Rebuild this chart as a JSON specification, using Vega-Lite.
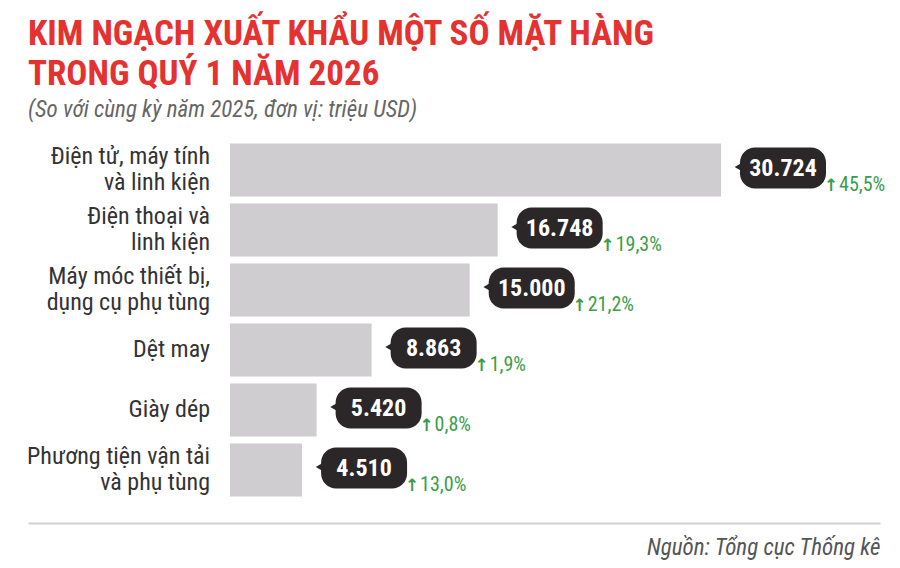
{
  "$schema": "https://vega.github.io/schema/vega-lite/v6.json",
  "autosize": "none",
  "width": 852,
  "height": 360,
  "padding": {"left": 28, "top": 140, "right": 20, "bottom": 68},
  "background": "white",
  "title": {
    "text": ["KIM NGẠCH XUẤT KHẨU MỘT SỐ MẶT HÀNG", "TRONG QUÝ 1 NĂM 2026"],
    "subtitle": "(So với cùng kỳ năm 2025, đơn vị: triệu USD)",
    "anchor": "start",
    "frame": "group",
    "font": "Roboto Condensed, Roboto",
    "fontSize": 35,
    "fontWeight": "bold",
    "color": "#e5312f",
    "lineHeight": 40,
    "subtitleFont": "Roboto Condensed, Roboto",
    "subtitleFontSize": 23,
    "subtitleFontStyle": "italic",
    "subtitleColor": "#666666",
    "subtitlePadding": 7,
    "offset": 18
  },
  "data": {
    "values": [
      {"category": "Điện tử, máy tính|và linh kiện", "lines": 2, "value": 30724, "pct": "45,5%"},
      {"category": "Điện thoại và|linh kiện", "lines": 2, "value": 16748, "pct": "19,3%"},
      {"category": "Máy móc thiết bị,|dụng cụ phụ tùng", "lines": 2, "value": 15000, "pct": "21,2%"},
      {"category": "Dệt may", "lines": 1, "value": 8863, "pct": "1,9%"},
      {"category": "Giày dép", "lines": 1, "value": 5420, "pct": "0,8%"},
      {"category": "Phương tiện vận tải|và phụ tùng", "lines": 2, "value": 4510, "pct": "13,0%"}
    ]
  },
  "encoding": {
    "y": {"field": "category", "type": "nominal", "sort": null, "axis": null,
          "scale": {"paddingInner": 0.12, "paddingOuter": 0.06}}
  },
  "layer": [
    {
      "mark": {"type": "bar", "color": "#cfcdd0"},
      "encoding": {
        "x": {"field": "value", "type": "quantitative",
              "scale": {"domain": [-12640, 40673], "nice": false, "zero": false},
              "axis": {"orient": "bottom", "offset": 23, "domain": true, "domainColor": "#d0d0d0", "domainWidth": 2,
                       "ticks": false, "labels": false, "grid": false,
                       "title": "Nguồn: Tổng cục Thống kê", "titleAnchor": "end", "titleFont": "Roboto Condensed, Roboto",
                       "titleFontStyle": "italic", "titleFontWeight": "normal", "titleFontSize": 23, "titleColor": "#555555",
                       "titlePadding": 13}}
      }
    },
    {
      "transform": [{"filter": "datum.lines == 2"}],
      "mark": {"type": "text", "align": "right", "baseline": "middle", "xOffset": -20, "yOffset": -13, "lineBreak": "|",
               "font": "Roboto Condensed, Roboto", "fontSize": 24, "lineHeight": 26, "color": "#333333"},
      "encoding": {"x": {"datum": 0, "type": "quantitative"}, "text": {"field": "category"}}
    },
    {
      "transform": [{"filter": "datum.lines == 1"}],
      "mark": {"type": "text", "align": "right", "baseline": "middle", "xOffset": -20, "yOffset": 0,
               "font": "Roboto Condensed, Roboto", "fontSize": 24, "color": "#333333"},
      "encoding": {"x": {"datum": 0, "type": "quantitative"}, "text": {"field": "category"}}
    },
    {
      "mark": {"type": "bar", "color": "#2b2728", "height": 41, "cornerRadius": 15, "xOffset": 19, "x2Offset": 105, "yOffset": -2, "y2Offset": -2},
      "encoding": {"x": {"field": "value", "type": "quantitative"}, "x2": {"field": "value"}}
    },
    {
      "mark": {"type": "point", "shape": "triangle-left", "filled": true, "color": "#2b2728", "opacity": 1, "size": 100, "xOffset": 18, "yOffset": -3},
      "encoding": {"x": {"field": "value", "type": "quantitative"}}
    },
    {
      "mark": {"type": "text", "align": "center", "baseline": "middle", "xOffset": 62, "yOffset": -1,
               "font": "Roboto Condensed, Roboto", "fontSize": 24, "fontWeight": "bold", "color": "white"},
      "encoding": {"x": {"field": "value", "type": "quantitative"}, "text": {"field": "value", "type": "quantitative", "format": ","}}
    },
    {
      "mark": {"type": "text", "align": "center", "baseline": "alphabetic", "xOffset": 110, "yOffset": 21,
               "font": "DejaVu Sans", "fontSize": 17, "fontWeight": "bold", "color": "#3a9e48"},
      "encoding": {"x": {"field": "value", "type": "quantitative"}, "text": {"value": "↑"}}
    },
    {
      "mark": {"type": "text", "align": "left", "baseline": "alphabetic", "xOffset": 118, "yOffset": 21,
               "font": "Roboto Condensed, Roboto", "fontSize": 20, "color": "#3a9e48"},
      "encoding": {"x": {"field": "value", "type": "quantitative"}, "text": {"field": "pct"}}
    }
  ],
  "config": {
    "view": {"stroke": null},
    "locale": {"number": {"decimal": ",", "thousands": ".", "grouping": [3], "currency": ["", ""]}}
  }
}
